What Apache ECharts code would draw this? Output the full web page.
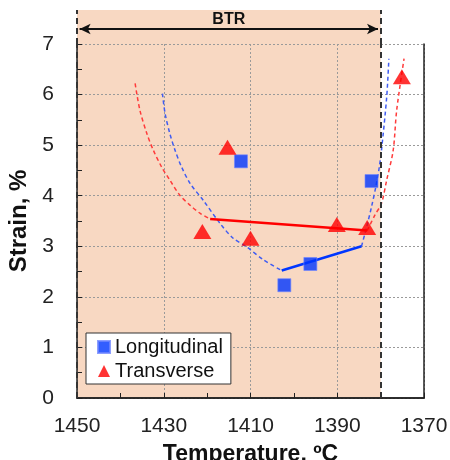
<!DOCTYPE html>
<html>
<head>
<meta charset="utf-8">
<script src="https://cdn.jsdelivr.net/npm/echarts@6/dist/echarts.min.js"></script>
<style>
  html, body { margin: 0; padding: 0; background: #fff; }
  #chart { width: 450px; height: 460px; }
</style>
</head>
<body>
<div id="chart"></div>
<script>
// measured points
const longTemp = [1412.2, 1402.2, 1396.2, 1382.1];
const longStrain = [4.68, 2.23, 2.65, 4.29];
const transTemp = [1421.1, 1415.3, 1410.0, 1390.1, 1383.1, 1375.1];
const transStrain = [3.29, 4.96, 3.16, 3.43, 3.37, 6.35];

// solid fit segments
const redFitTemp = [1419.3, 1383.1];
const redFitStrain = [3.54, 3.31];
const blueFitTemp = [1402.8, 1384.4];
const blueFitStrain = [2.52, 3.00];

// dashed curves (left branch / right branch)
const redLeftTemp = [1436.6, 1435.5, 1433.9, 1432.4, 1430.5, 1428.6, 1426.3, 1423.9, 1421.6, 1419.3];
const redLeftStrain = [6.22, 5.69, 5.23, 4.90, 4.57, 4.31, 4.01, 3.81, 3.65, 3.54];
const redRightTemp = [1383.1, 1381.3, 1379.8, 1378.6, 1377.1, 1376.3, 1374.6];
const redRightStrain = [3.31, 3.62, 3.85, 4.31, 4.90, 5.69, 6.71];
const blueLeftTemp = [1430.3, 1429.7, 1428.6, 1427.4, 1425.9, 1423.9, 1420.9, 1417.0, 1414.0, 1410.9, 1407.0, 1402.8];
const blueLeftStrain = [6.02, 5.63, 5.23, 4.90, 4.57, 4.24, 3.91, 3.45, 3.16, 2.99, 2.73, 2.52];
const blueRightTemp = [1384.4, 1383.2, 1382.1, 1381.1, 1380.3, 1379.8, 1378.6, 1378.1];
const blueRightStrain = [3.00, 3.39, 3.78, 4.18, 4.57, 4.90, 5.95, 6.71];

// brittle temperature range
const btrStart = 1450;
const btrEnd = 1380;

const xTicks = { min: 1370, max: 1450, interval: 20 };
const yTicks = { min: 0, max: 7, interval: 1 };

const FONT = 'Liberation Sans, Arial, sans-serif';
const BLUE = '#0036ff';
const RED = '#ff0000';
const SHADE = '#f8d8c2';

function pairs(xs, ys) {
  return xs.map((x, i) => [x, ys[i]]);
}

const chart = echarts.init(document.getElementById('chart'));

const gridLine = { show: true, lineStyle: { color: '#9a9a9a', type: [2, 2], width: 1 } };
const border = { show: true, lineStyle: { color: '#222', width: 1.5 } };

const option = {
  animation: false,
  textStyle: { fontFamily: FONT },
  grid: [
    { left: 77, right: 26, top: 44, bottom: 62, outerBoundsMode: 'none', containLabel: false },
    { left: 77, right: 26, top: 10, height: 34, outerBoundsMode: 'none', containLabel: false }
  ],
  legend: {
    data: [
      { name: 'Longitudinal', icon: 'rect' },
      { name: 'Transverse', icon: 'triangle' }
    ],
    orient: 'vertical',
    left: 86,
    top: 333,
    itemWidth: 12,
    itemHeight: 12,
    itemGap: 4,
    padding: [4, 8, 3, 11],
    backgroundColor: '#fff',
    borderColor: '#333',
    borderWidth: 1,
    textStyle: { fontSize: 20, color: '#111', fontFamily: FONT }
  },
  xAxis: [
    {
      gridIndex: 0, type: 'value', inverse: true,
      min: xTicks.min, max: xTicks.max, interval: xTicks.interval,
      name: 'Temperature, ºC', nameLocation: 'middle', nameGap: 45,
      nameTextStyle: { fontSize: 23, fontWeight: 'bold', color: '#111' },
      axisLine: border,
      axisTick: { show: true, inside: true, length: 5, lineStyle: { color: '#222' } },
      minorTick: { show: true, splitNumber: 2, length: 5, lineStyle: { color: '#222' } },
      axisLabel: { fontSize: 21, color: '#222', margin: 18, formatter: v => String(v) },
      splitLine: gridLine,
      z: 3
    },
    {
      gridIndex: 0, type: 'value', inverse: true, position: 'top',
      min: xTicks.min, max: xTicks.max,
      axisLine: border, axisTick: { show: false }, axisLabel: { show: false },
      splitLine: { show: false }, z: 4
    },
    {
      gridIndex: 1, type: 'value', inverse: true,
      min: xTicks.min, max: xTicks.max, show: false
    }
  ],
  yAxis: [
    {
      gridIndex: 0, type: 'value',
      min: yTicks.min, max: yTicks.max, interval: yTicks.interval,
      name: 'Strain, %', nameLocation: 'middle', nameGap: 38,
      nameTextStyle: { fontSize: 24, fontWeight: 'bold', color: '#111' },
      axisLine: border,
      axisTick: { show: true, inside: true, length: 5, lineStyle: { color: '#222' } },
      minorTick: { show: true, splitNumber: 2, length: 5, lineStyle: { color: '#222' } },
      axisLabel: { fontSize: 21, color: '#222', margin: 23 },
      splitLine: gridLine,
      z: 3
    },
    {
      gridIndex: 0, type: 'value', position: 'right',
      min: yTicks.min, max: yTicks.max,
      axisLine: border, axisTick: { show: false }, axisLabel: { show: false },
      splitLine: { show: false }, z: 4
    },
    {
      gridIndex: 1, type: 'value', min: 0, max: 1, show: false
    }
  ],
  series: [
    // BTR shading in plot area (area under a flat line at the top of the axis)
    {
      type: 'line', xAxisIndex: 0, yAxisIndex: 0, silent: true, z: 1,
      data: [[btrStart, yTicks.max], [btrEnd, yTicks.max]],
      showSymbol: false,
      lineStyle: { width: 0 },
      areaStyle: { color: SHADE, opacity: 1 },
      markLine: {
        silent: true, symbol: 'none', label: { show: false },
        lineStyle: { color: '#333', type: [6, 4], width: 2 },
        data: [{ xAxis: btrStart }, { xAxis: btrEnd }]
      }
    },
    // BTR band above plot
    {
      type: 'line', xAxisIndex: 2, yAxisIndex: 2, data: [], silent: true,
      markArea: {
        silent: true,
        itemStyle: { color: SHADE },
        label: {
          show: true, position: 'insideTop', distance: 2, formatter: 'BTR',
          fontSize: 16, fontWeight: 'bold', color: '#111', fontFamily: FONT
        },
        data: [[{ xAxis: btrStart }, { xAxis: btrEnd }]]
      },
      markLine: {
        silent: true, label: { show: false },
        data: [
          [{ xAxis: btrStart, yAxis: 0, symbol: 'none', lineStyle: { color: '#333', type: [6, 4], width: 2 } },
           { xAxis: btrStart, yAxis: 1, symbol: 'none' }],
          [{ xAxis: btrEnd, yAxis: 0, symbol: 'none', lineStyle: { color: '#333', type: [6, 4], width: 2 } },
           { xAxis: btrEnd, yAxis: 1, symbol: 'none' }],
          [{ coord: [btrStart - 0.6, 0.44], symbol: 'arrow', symbolSize: [8, 11], lineStyle: { color: '#111', type: 'solid', width: 2 } },
           { coord: [btrEnd + 0.6, 0.44], symbol: 'arrow', symbolSize: [8, 11] }]
        ]
      }
    },
    // dashed curves
    {
      name: 'redLeft', type: 'line', smooth: 0.3, showSymbol: false, silent: true, z: 4,
      data: pairs(redLeftTemp, redLeftStrain),
      lineStyle: { color: '#ff3b3b', width: 1.5, type: [4, 3] }
    },
    {
      name: 'redRight', type: 'line', smooth: 0.3, showSymbol: false, silent: true, z: 4,
      data: pairs(redRightTemp, redRightStrain),
      lineStyle: { color: '#ff3b3b', width: 1.5, type: [4, 3] }
    },
    {
      name: 'blueLeft', type: 'line', smooth: 0.3, showSymbol: false, silent: true, z: 4,
      data: pairs(blueLeftTemp, blueLeftStrain),
      lineStyle: { color: '#3f5cf2', width: 1.5, type: [4, 3] }
    },
    {
      name: 'blueRight', type: 'line', smooth: 0.3, showSymbol: false, silent: true, z: 4,
      data: pairs(blueRightTemp, blueRightStrain),
      lineStyle: { color: '#3f5cf2', width: 1.5, type: [4, 3] }
    },
    // solid fit segments
    {
      name: 'redFit', type: 'line', showSymbol: false, silent: true, z: 4,
      data: pairs(redFitTemp, redFitStrain),
      lineStyle: { color: RED, width: 2.5 }
    },
    {
      name: 'blueFit', type: 'line', showSymbol: false, silent: true, z: 4,
      data: pairs(blueFitTemp, blueFitStrain),
      lineStyle: { color: BLUE, width: 2.5 }
    },
    // measured points
    {
      name: 'Longitudinal', type: 'scatter', symbol: 'rect', symbolSize: 13,
      data: pairs(longTemp, longStrain),
      itemStyle: { color: BLUE, borderColor: '#6f86ff', borderWidth: 0.8 },
      z: 5
    },
    {
      name: 'Transverse', type: 'scatter', symbol: 'triangle', symbolSize: [18, 15],
      data: pairs(transTemp, transStrain),
      itemStyle: { color: RED },
      z: 5
    }
  ]
};

chart.setOption(option);

window.addEventListener('resize', function() {
  chart.resize();
});
</script>
</body>
</html>
